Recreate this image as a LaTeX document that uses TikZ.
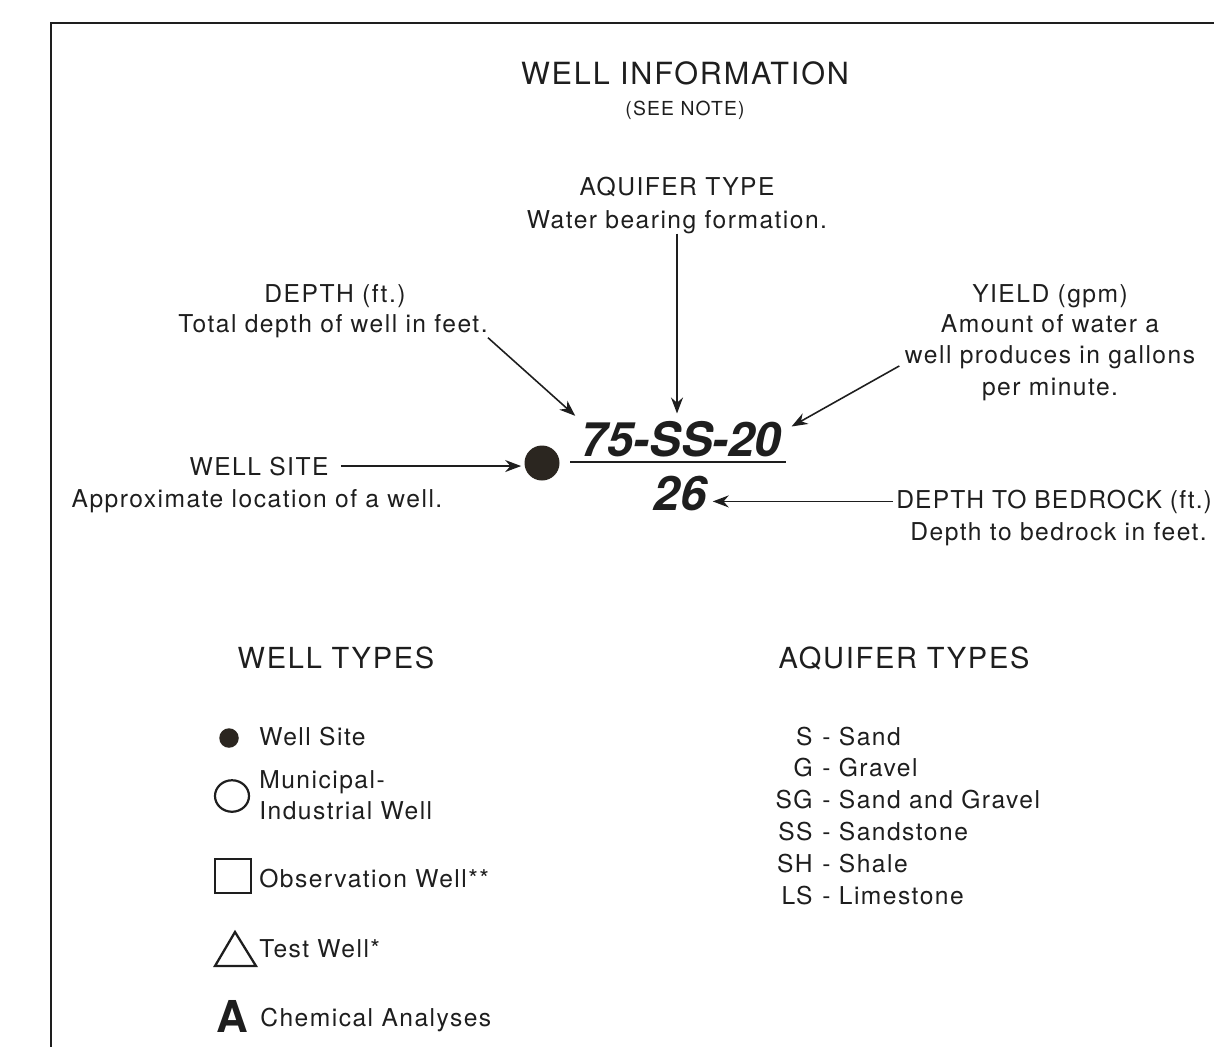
\documentclass[tikz,border=0pt]{standalone}
\usepackage{fontspec}
\setmainfont{TeX Gyre Heros}[LetterSpace=6]
\usetikzlibrary{arrows.meta}
\definecolor{ink}{HTML}{1E1E1E}
\definecolor{dotc}{HTML}{2B2620}
\begin{document}
\begin{tikzpicture}[x=.2mm,y=-.2mm,ink,every node/.style={inner sep=0pt},
 head/.style={font=\fontsize{17.4}{20}\selectfont},txt/.style={font=\fontsize{14}{16}\selectfont},
 sm/.style={font=\fontsize{11}{13}\selectfont},sub/.style={font=\fontsize{16.5}{19}\selectfont},
 num/.style={font=\fontsize{27}{30}\selectfont\bfseries\itshape\addfontfeature{LetterSpace=0}},
 conn/.style={-{Stealth[length=3.2mm,width=2.4mm]},line width=.9pt}]
\clip(0,0)rectangle(1214,1046);\draw[line width=1.1pt](51,23)rectangle(1300,1100);
% heading
\node[head,anchor=base](title)at(685,84){WELL INFORMATION};\node[sm,anchor=base](note)at(685,115){(SEE NOTE)};
% the labelled well symbol
\node[txt,anchor=base](aqtype)at(677,195){AQUIFER TYPE};\node[txt,anchor=base](aqdesc)at(677,228){Water bearing formation.};
\node[txt,anchor=base](depth)at(335,302){DEPTH (ft.)};\node[txt,anchor=base](depthdesc)at(333,332){Total depth of well in feet.};
\node[txt,anchor=base](yield1)at(1050,302){YIELD (gpm)};\node[txt,anchor=base](yield2)at(1050,332){Amount of water a};
\node[txt,anchor=base](yield3)at(1050,363){well produces in gallons};\node[txt,anchor=base](yield4)at(1050,395){per minute.};
\node[txt,anchor=base](site)at(259,475){WELL SITE};\node[txt,anchor=base](sitedesc)at(257,507){Approximate location of a well.};
\node[num,anchor=base](code)at(681,456){75-SS-20};\node[num,anchor=base](bedrocknum)at(680,510){26};
\draw[line width=1.6pt](570,462)--(786,462);
\node[circle,fill=dotc,minimum size=7mm](dot)at(542,463){};
\node[txt,anchor=base west,font=\fontsize{14}{16}\selectfont\addfontfeature{LetterSpace=4.5}](bedrock)at(896,508){DEPTH TO BEDROCK (ft.)};
\node[txt,anchor=base west](bedrockdesc)at(910,540){Depth to bedrock in feet.};
\draw[conn,shorten <=2.4mm,shorten >=.6mm](site.east)--(site.east-|dot.west);
\draw[conn,shorten >=1.4mm](depthdesc.south east)--(code.north west);
\draw[conn,shorten >=1.4mm](aqdesc.south)--(aqdesc.south|-code.north);
\draw[conn,shorten <=1.2mm](yield3.base west)--([xshift=2mm,yshift=-1.2mm]code.north east);
\draw[conn,shorten <=.6mm,shorten >=1.2mm](bedrock.west)--(bedrock.west-|bedrocknum.east);
% legends
\node[sub,anchor=base](welltypes)at(336,668){WELL TYPES};\node[sub,anchor=base](aqtypes)at(904,668){AQUIFER TYPES};
\fill[dotc](229,738)circle[radius=1.95mm];\draw[line width=1.25pt](232,796)ellipse[x radius=3.4mm,y radius=3.15mm];
\draw[line width=1.2pt](215,859)rectangle(251,893);\draw[line width=1.3pt,line join=miter](235,932)--(256,966)--(215,966)--cycle;
\node[font=\fontsize{25}{28}\selectfont\bfseries\addfontfeature{LetterSpace=0},anchor=base west](chemA)at(216,1032){A};
\node[txt,anchor=base west](lsite)at(259,745){Well Site};\node[txt,anchor=base west](lmun)at(259,788){Municipal-};
\node[txt,anchor=base west](lind)at(259,819){Industrial Well};\node[txt,anchor=base west](lobs)at(259,887){Observation Well**};
\node[txt,anchor=base west](ltest)at(259,957){Test Well*};\node[txt,anchor=base west](lchem)at(260,1026){Chemical Analyses};
\foreach \c/\d[count=\i]in{S/Sand,G/Gravel,SG/Sand and Gravel,SS/Sandstone,SH/Shale,LS/Limestone}{
 \node[txt,anchor=base east](aq\i)at(813,713.2+31.8*\i){\c};\node[txt,anchor=base west](aqname\i)at(822,713.2+31.8*\i){- \d};}
\end{tikzpicture}
\end{document}
